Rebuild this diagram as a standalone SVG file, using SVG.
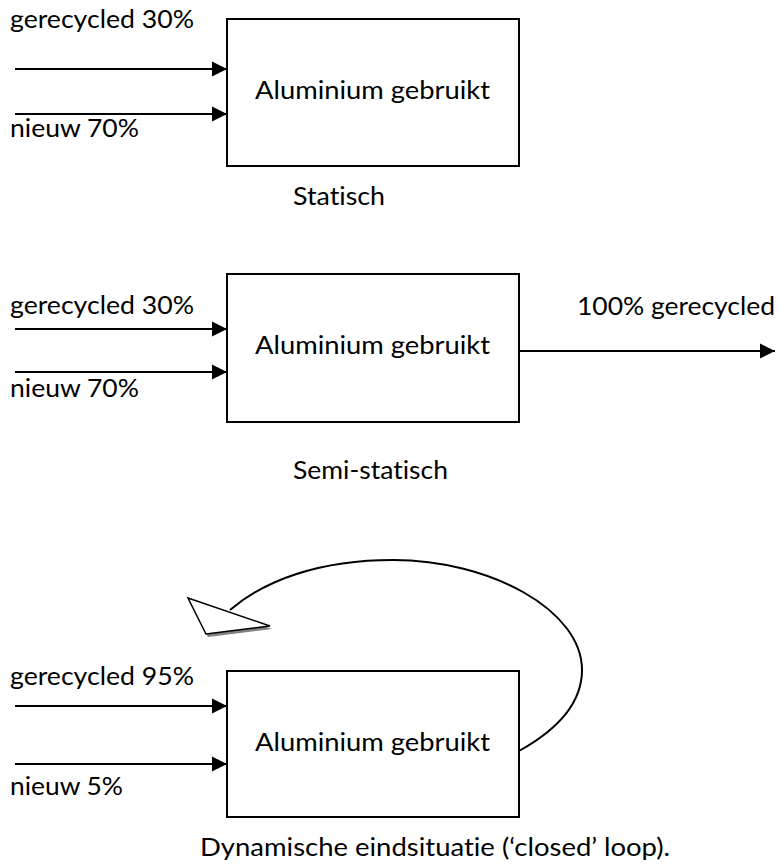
<svg xmlns="http://www.w3.org/2000/svg" width="779" height="868" viewBox="0 0 779 868">
<style>
  .box { fill: #ffffff; stroke: #000000; stroke-width: 2; }
  .lbl { font-family: Lato, "Liberation Sans", Arial, sans-serif; font-size: 25.5px; fill: #000000; font-variant-ligatures: none; font-feature-settings: "liga" 0, "clig" 0; }
  .ln { stroke: #000000; stroke-width: 2; fill: none; }
  .arr { marker-end: url(#ah); }
</style>
<defs>
  <marker id="ah" markerUnits="userSpaceOnUse" markerWidth="15" markerHeight="16" refX="15" refY="8" orient="auto">
    <path d="M0,0.5 L15,8 L0,15.5 z" fill="#000000"/>
  </marker>
</defs>
<rect width="779" height="868" fill="#ffffff"/>

<g id="connectors">
  <line class="ln arr" x1="15" y1="69" x2="227" y2="69"/>
  <line class="ln arr" x1="15" y1="114" x2="227" y2="114"/>
  <line class="ln arr" x1="15" y1="329" x2="227" y2="329"/>
  <line class="ln arr" x1="15" y1="372" x2="227" y2="372"/>
  <line class="ln arr" x1="519" y1="351" x2="775" y2="351"/>
  <line class="ln arr" x1="15" y1="706" x2="227" y2="706"/>
  <line class="ln arr" x1="15" y1="764" x2="227" y2="764"/>
  <path class="ln" d="M519,751 C555,731 582,705 582,670 C582,610 490,560 393,560 C320,560 265,580 230,610"/>
  <polygon points="190,601 272,629 208,637" fill="#808080"/>
  <polygon points="188,598 270,626 206,634" fill="#ffffff" stroke="#000000" stroke-width="1.5" stroke-linejoin="miter"/>
</g>

<g id="node-statisch">
  <rect class="box" x="227" y="19" width="292" height="147"/>
  <text class="lbl" x="255" y="99" textLength="235" lengthAdjust="spacingAndGlyphs">Aluminium gebruikt</text>
</g>
<g id="labels-statisch">
  <text class="lbl" x="10" y="28" textLength="184" lengthAdjust="spacingAndGlyphs">gerecycled 30%</text>
  <text class="lbl" x="10" y="137" textLength="129" lengthAdjust="spacingAndGlyphs">nieuw 70%</text>
  <text class="lbl" x="293" y="205" textLength="92" lengthAdjust="spacingAndGlyphs">Statisch</text>
</g>

<g id="node-semistatisch">
  <rect class="box" x="227" y="274" width="292" height="148"/>
  <text class="lbl" x="255" y="354" textLength="235" lengthAdjust="spacingAndGlyphs">Aluminium gebruikt</text>
</g>
<g id="labels-semistatisch">
  <text class="lbl" x="10" y="314" textLength="184" lengthAdjust="spacingAndGlyphs">gerecycled 30%</text>
  <text class="lbl" x="10" y="397" textLength="129" lengthAdjust="spacingAndGlyphs">nieuw 70%</text>
  <text class="lbl" x="577" y="315" textLength="198" lengthAdjust="spacingAndGlyphs">100% gerecycled</text>
  <text class="lbl" x="293" y="479" textLength="155" lengthAdjust="spacingAndGlyphs">Semi-statisch</text>
</g>

<g id="node-dynamisch">
  <rect class="box" x="227" y="671" width="292" height="146"/>
  <text class="lbl" x="255" y="751" textLength="235" lengthAdjust="spacingAndGlyphs">Aluminium gebruikt</text>
</g>
<g id="labels-dynamisch">
  <text class="lbl" x="10" y="685" textLength="184" lengthAdjust="spacingAndGlyphs">gerecycled 95%</text>
  <text class="lbl" x="10" y="795" textLength="113" lengthAdjust="spacingAndGlyphs">nieuw 5%</text>
  <text class="lbl" x="200" y="856" textLength="470" lengthAdjust="spacingAndGlyphs">Dynamische eindsituatie (‘closed’ loop).</text>
</g>
</svg>
